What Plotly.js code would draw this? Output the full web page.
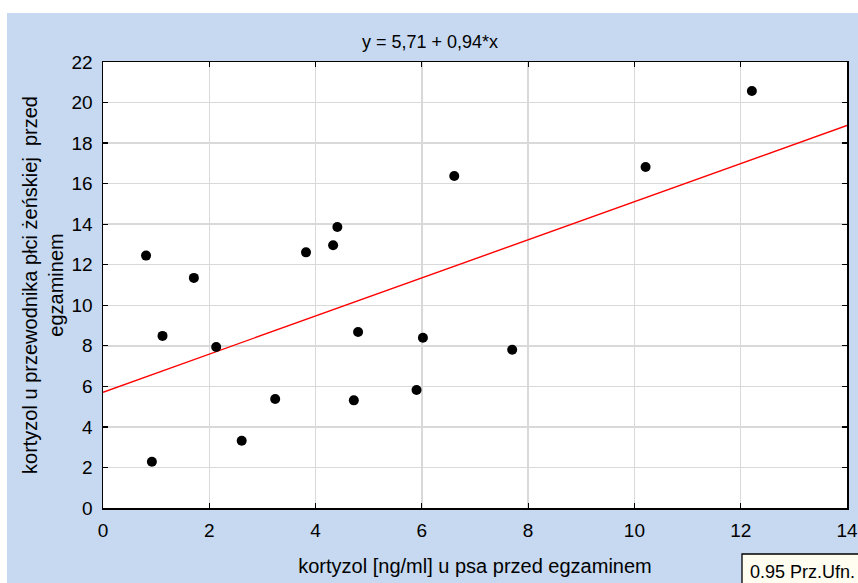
<!DOCTYPE html>
<html>
<head>
<meta charset="utf-8">
<script src="https://cdn.plot.ly/plotly-3.0.1.min.js"></script>
<style>html,body{margin:0;padding:0;background:#fff;}#chart{width:858px;height:583px;}</style>
</head>
<body>
<div id="chart"></div>
<script>
// Data
const dogCortisol = [0.81, 0.92, 1.12, 1.71, 2.13, 2.61, 3.24, 3.82, 4.33, 4.41, 4.72, 4.80, 5.90, 6.02, 6.61, 7.70, 10.21, 12.21];
const handlerCortisol = [12.45, 2.28, 8.49, 11.35, 7.94, 3.32, 5.38, 12.61, 12.96, 13.86, 5.31, 8.68, 5.82, 8.40, 16.38, 7.81, 16.82, 20.57];
const intercept = 5.71;
const slope = 0.94;
const xRange = [0, 14];
const yRange = [0, 22];
const titleText = 'y = 5,71 + 0,94*x';
const xTitle = 'kortyzol [ng/ml] u psa przed egzaminem';
const yTitle = 'kortyzol u przewodnika płci żeńskiej \u00a0przed<br>egzaminem';
const legendText = '0.95 Prz.Ufn.';

const W = 858, H = 583;
const L = 103, R = 11, T = 62, B = 75;
const pw = W - L - R, ph = H - T - B;
const px = v => (v - L) / pw;          // pixel x -> paper x
const py = v => (H - B - v) / ph;      // pixel y -> paper y

const fitX = xRange.slice();
const fitY = fitX.map(x => intercept + slope * x);

const fam = 'Liberation Sans, Arial, sans-serif';
const tickFont = {family: fam, size: 19, color: '#000'};
const titleFont = {family: fam, size: 18, color: '#000'};
const axTitleFont = {family: fam, size: 20, color: '#000'};
const legendFont = {family: fam, size: 18, color: '#000'};

const traces = [
  {x: fitX, y: fitY, type: 'scatter', mode: 'lines', line: {color: '#ff0000', width: 1.4}, hoverinfo: 'skip'},
  {x: dogCortisol, y: handlerCortisol, type: 'scatter', mode: 'markers', marker: {color: '#000', size: 10}}
];

const axisCommon = {
  showgrid: true, gridcolor: '#d9d9d9', gridwidth: 1.5,
  zeroline: false, showline: true, linecolor: '#000', linewidth: 1.5,
  mirror: 'ticks', ticks: 'inside', ticklen: 5, tickcolor: '#000', tickwidth: 1.2,
  tickfont: tickFont, fixedrange: true
};

const layout = {
  width: W, height: H,
  margin: {l: L, r: R, t: T, b: B, pad: 0},
  paper_bgcolor: '#C6D9F0',
  plot_bgcolor: '#ffffff',
  showlegend: false,
  font: tickFont,
  title: {text: titleText, font: titleFont, x: 430 / W, xref: 'container', xanchor: 'center', y: 1 - 42 / H, yref: 'container', yanchor: 'middle'},
  xaxis: Object.assign({}, axisCommon, {range: xRange, dtick: 2, ticklabelstandoff: 5, title: {text: xTitle, font: axTitleFont, standoff: 18}}),
  yaxis: Object.assign({}, axisCommon, {range: yRange, dtick: 2, ticklabelstandoff: 5, title: {text: yTitle, font: axTitleFont, standoff: 2}}),
  shapes: [
    // white strips outside the light-blue panel
    {type: 'rect', xref: 'paper', yref: 'paper', x0: px(-10), x1: px(W + 10), y0: py(13), y1: py(-10), fillcolor: '#fff', line: {width: 0}, layer: 'below'},
    {type: 'rect', xref: 'paper', yref: 'paper', x0: px(-10), x1: px(7), y0: py(H + 10), y1: py(-10), fillcolor: '#fff', line: {width: 0}, layer: 'below'},
    // legend box, cut by the right edge
    {type: 'rect', xref: 'paper', yref: 'paper', x0: px(742), x1: px(W + 40), y0: py(554), y1: py(H + 40), fillcolor: '#FFFCF0', line: {color: '#000', width: 1.3}, layer: 'above'}
  ],
  annotations: [
    {text: legendText, xref: 'paper', yref: 'paper', x: px(748), y: py(572), xanchor: 'left', yanchor: 'middle', showarrow: false, font: legendFont}
  ]
};

Plotly.newPlot('chart', traces, layout, {displayModeBar: false, staticPlot: true});
</script>
</body>
</html>
